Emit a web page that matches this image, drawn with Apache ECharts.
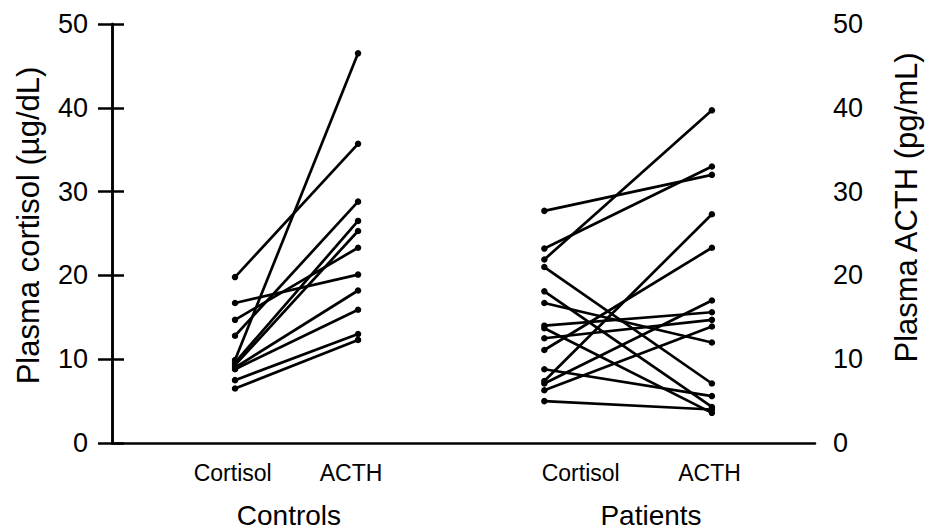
<!DOCTYPE html>
<html><head><meta charset="utf-8">
<script src="https://cdn.jsdelivr.net/npm/echarts@6/dist/echarts.min.js"></script>
<style>html,body{margin:0;padding:0;background:#fff}#c{width:930px;height:531px}</style>
</head><body><div id="c"></div>
<script>
// ---- data ----
const categoryLabels = ['Cortisol', 'ACTH', 'Cortisol', 'ACTH'];
const groupLabels = ['Controls', 'Patients'];
const yTicks = [0, 10, 20, 30, 40, 50];
// paired values: cortisol (µg/dL) -> ACTH (pg/mL)
const controlsCortisol = [19.8, 16.7, 14.7, 12.8, 9.9, 9.6, 9.3, 9.0, 8.8, 7.5, 6.5];
const controlsACTH     = [35.7, 20.1, 23.3, 28.8, 46.5, 26.5, 25.3, 18.2, 15.9, 13.0, 12.3];
const patientsCortisol = [27.7, 23.2, 21.9, 21.0, 18.1, 16.7, 14.0, 13.7, 12.5, 11.1, 8.8, 7.4, 7.1, 6.3, 5.0];
const patientsACTH     = [32.0, 33.0, 39.7, 7.1, 4.3, 12.0, 15.6, 3.6, 14.7, 23.3, 5.6, 27.3, 17.0, 13.9, 4.0];

// ---- layout (x positions on a 0..6 value axis) ----
const dotX = [1.05, 2.10, 3.69, 5.12];
const labelX = [1.03, 2.04, 4.0, 5.1];
const groupX = [1.51, 4.6];
const FONT = 'Liberation Sans, Arial, Helvetica, sans-serif';

const series = [];
function addPairs(cort, acth, xc, xa) {
  cort.forEach((c, i) => {
    series.push({
      type: 'line', xAxisIndex: 0, yAxisIndex: 0,
      data: [[xc, c], [xa, acth[i]]],
      symbol: 'circle', symbolSize: 6.5, showSymbol: true,
      lineStyle: { color: '#000', width: 2.7 },
      itemStyle: { color: '#000' },
      emphasis: { disabled: true }, silent: true, animation: false
    });
  });
}
addPairs(controlsCortisol, controlsACTH, dotX[0], dotX[1]);
addPairs(patientsCortisol, patientsACTH, dotX[2], dotX[3]);

const chart = echarts.init(document.getElementById('c'), null, { renderer: 'svg' });
const axisLine = { show: true, lineStyle: { color: '#000', width: 2.5 } };
chart.setOption({
  animation: false,
  backgroundColor: '#fff',
  grid: { left: 112, right: 104, top: 24, bottom: 88, containLabel: false },
  xAxis: [
    {
      type: 'value', min: 0, max: 6, position: 'bottom',
      axisLine: axisLine, axisTick: { show: false }, splitLine: { show: false },
      axisLabel: {
        customValues: labelX, margin: 18,
        formatter: v => categoryLabels[labelX.indexOf(v)] || '',
        color: '#000', fontSize: 23, fontFamily: FONT
      }
    },
    {
      type: 'value', min: 0, max: 6, position: 'bottom',
      axisLine: { show: false }, axisTick: { show: false }, splitLine: { show: false },
      axisLabel: {
        customValues: groupX, margin: 58,
        formatter: v => groupLabels[groupX.indexOf(v)] || '',
        color: '#000', fontSize: 28, fontFamily: FONT
      }
    }
  ],
  yAxis: [
    {
      type: 'value', min: 0, max: 50, interval: 10, position: 'left',
      name: 'Plasma cortisol (µg/dL)', nameLocation: 'middle', nameGap: 68, nameRotate: 90,
      nameTextStyle: { color: '#000', fontSize: 31, fontFamily: FONT, padding: [0, 0, 0, 16] },
      axisLine: axisLine,
      axisTick: { show: true, inside: false, length: 14, lineStyle: { color: '#000', width: 2.5 } },
      axisLabel: { margin: 24, color: '#000', fontSize: 27, fontFamily: FONT,
        formatter: v => yTicks.includes(v) ? String(v) : '' },
      splitLine: { show: false }
    },
    {
      type: 'value', min: 0, max: 50, interval: 10, position: 'right',
      name: 'Plasma ACTH (pg/mL)', nameLocation: 'middle', nameGap: 76, nameRotate: 90,
      nameTextStyle: { color: '#000', fontSize: 31, fontFamily: FONT, padding: [0, 0, 0, 52] },
      axisLine: axisLine,
      axisTick: { show: true, inside: false, length: 12, lineStyle: { color: '#000', width: 2.5 } },
      axisLabel: { margin: 18, color: '#000', fontSize: 27, fontFamily: FONT,
        formatter: v => yTicks.includes(v) ? String(v) : '' },
      splitLine: { show: false }
    }
  ],
  series: series
});
</script>
</body></html>
